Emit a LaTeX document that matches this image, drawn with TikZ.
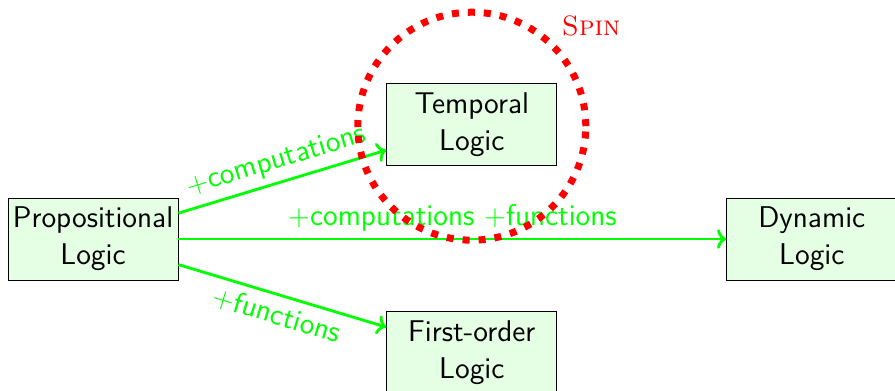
\documentclass[tikz,border=0pt]{standalone}
\usepackage{tikz}
\usetikzlibrary{arrows.meta, positioning}

\begin{document}
\begin{tikzpicture}[font=\sffamily\fontsize{15}{18.5}\selectfont,
    logicbox/.style={draw, fill=green!10, align=center, minimum width=85pt, minimum height=41pt, inner sep=1pt},
    ext/.style={->, green, line width=1.4pt},
    extlabel/.style={green, sloped}]
      \useasboundingbox (-46.5pt,119.5pt) rectangle (401pt,-76pt);

      \node[logicbox] (prop) {Propositional\\Logic};
      \node[logicbox, above right=16pt and 104pt of prop] (temporal) {Temporal\\Logic};
      \node[logicbox, below right=15.5pt and 104pt of prop] (firstorder) {First-order\\Logic};
      \node[logicbox, right=274pt of prop] (dynamic) {Dynamic\\Logic};

      \draw[ext] (prop) -- node[extlabel, above]{$+$computations} (temporal);
      \draw[ext] (prop) -- node[extlabel, below]{$+$functions} (firstorder);
      \draw[ext] (prop) -- node[extlabel, above]{$+$computations $+$functions} (dynamic);

      % model checker region
      \node[draw=red, circle, line width=3.5pt, dash pattern=on 3.5pt off 4.5pt, minimum size=114pt]
            (spin) at ([yshift=-1pt]temporal.center) {};
      \node[red, anchor=south west, font=\rmfamily\fontsize{14}{18}\selectfont] (spinlabel) at (spin.north east) {\textsc{Spin}};
    \end{tikzpicture}
\end{document}
